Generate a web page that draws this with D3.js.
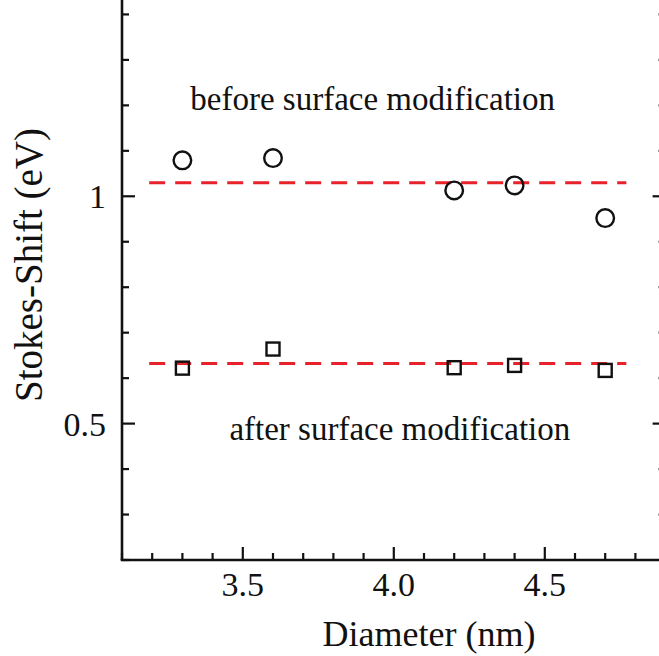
<!DOCTYPE html>
<html>
<head>
<meta charset="utf-8">
<script src="https://cdn.jsdelivr.net/npm/d3@7"></script>
<style>
  html, body { margin: 0; padding: 0; background: #fff; }
  svg { display: block; }
</style>
</head>
<body>
<div id="chart"></div>
<script>
// data
const diameters = [3.3, 3.6, 4.2, 4.4, 4.7];
const beforeShift = [1.079, 1.084, 1.013, 1.024, 0.952];
const afterShift = [0.622, 0.664, 0.623, 0.628, 0.617];
const beforeMean = 1.030;
const afterMean = 0.632;
const meanSpan = [3.19, 4.77];
const xMajor = [3.5, 4.0, 4.5];
const yMajor = [0.5, 1];

const width = 659, height = 656;
const font = "'Liberation Serif', 'Times New Roman', serif";

const svg = d3.select("#chart").append("svg")
    .attr("width", width)
    .attr("height", height);
svg.append("rect").attr("width", "100%").attr("height", "100%").style("fill", "#fff");

const x = d3.scaleLinear().domain([3.1, 4.9]).range([122, 665.6]);
const y = d3.scaleLinear().domain([0.2, 1.45]).range([560, -8.3]);

const xMinor = d3.range(31, 50).map(d => d / 10).filter(d => !xMajor.some(m => Math.abs(m - d) < 1e-9));
const yMinor = d3.range(2, 15).map(d => d / 10).filter(d => !yMajor.some(m => Math.abs(m - d) < 1e-9));

const axisColor = "#111";
const axisW = 2.6;

const axes = svg.append("g");

// frame lines
axes.append("line").attr("x1", x(3.1)).attr("x2", x(3.1)).attr("y1", y(0.2)).attr("y2", y(1.45));
axes.append("line").attr("x1", x(4.9)).attr("x2", x(4.9)).attr("y1", y(0.2)).attr("y2", y(1.45));
axes.append("line").attr("x1", x(3.1) - axisW / 2).attr("x2", x(4.9)).attr("y1", y(0.2)).attr("y2", y(0.2));
axes.selectAll("line").attr("stroke", axisColor).attr("stroke-width", axisW);

// ticks, all pointing inward
function tickLines(vals, len, side) {
    const g = svg.append("g").attr("stroke", axisColor).attr("stroke-width", 2.2);
    g.selectAll("line").data(vals).enter().append("line")
        .attr("x1", d => side === "bottom" ? x(d) : (side === "left" ? x(3.1) : x(4.9)))
        .attr("x2", d => side === "bottom" ? x(d) : (side === "left" ? x(3.1) + len : x(4.9) - len))
        .attr("y1", d => side === "bottom" ? y(0.2) : y(d))
        .attr("y2", d => side === "bottom" ? y(0.2) - len : y(d));
}
tickLines(xMajor, 13, "bottom");
tickLines(xMinor, 7, "bottom");
tickLines(yMajor, 13, "left");
tickLines(yMinor, 7, "left");
tickLines(yMajor, 13, "right");
tickLines(yMinor, 7, "right");

// tick labels
svg.append("g").selectAll("text").data(xMajor).enter().append("text")
    .attr("x", d => x(d))
    .attr("y", y(0.2) + 36)
    .attr("text-anchor", "middle")
    .style("font-family", font)
    .style("font-size", "34px")
    .attr("fill", "#111")
    .text(d3.format(".1f"));

svg.append("g").selectAll("text").data(yMajor).enter().append("text")
    .attr("x", x(3.1) - 16)
    .attr("y", d => y(d) + 12)
    .attr("text-anchor", "end")
    .style("font-family", font)
    .style("font-size", "34px")
    .attr("fill", "#111")
    .text(d => d3.format("")(d));

// axis titles
svg.append("text")
    .attr("x", 429)
    .attr("y", 646)
    .attr("text-anchor", "middle")
    .style("font-family", font)
    .style("font-size", "36px")
    .attr("fill", "#111")
    .text("Diameter (nm)");

svg.append("text")
    .attr("transform", "translate(42,265) rotate(-90)")
    .attr("text-anchor", "middle")
    .style("font-family", font)
    .style("font-size", "39px")
    .attr("fill", "#111")
    .text("Stokes-Shift (eV)");

// mean lines
svg.append("g").selectAll("line").data([beforeMean, afterMean]).enter().append("line")
    .attr("x1", x(meanSpan[0]))
    .attr("x2", x(meanSpan[1]))
    .attr("y1", d => y(d))
    .attr("y2", d => y(d))
    .attr("stroke", "#e8222b")
    .attr("stroke-width", 3)
    .attr("stroke-dasharray", "16,10");

// before: open circles
svg.append("g").selectAll("circle").data(diameters).enter().append("circle")
    .attr("cx", d => x(d))
    .attr("cy", (d, i) => y(beforeShift[i]))
    .attr("r", 8.8)
    .attr("fill", "none")
    .attr("stroke", "#111")
    .attr("stroke-width", 2.4);

// after: open squares
const sq = 13;
svg.append("g").selectAll("rect").data(diameters).enter().append("rect")
    .attr("x", d => x(d) - sq / 2)
    .attr("y", (d, i) => y(afterShift[i]) - sq / 2)
    .attr("width", sq)
    .attr("height", sq)
    .attr("fill", "none")
    .attr("stroke", "#111")
    .attr("stroke-width", 2.4);

// annotations
svg.append("text")
    .attr("x", x(3.93))
    .attr("y", y(1.19))
    .attr("text-anchor", "middle")
    .style("font-family", font)
    .style("font-size", "33px")
    .attr("fill", "#111")
    .text("before surface modification");

svg.append("text")
    .attr("x", x(4.02))
    .attr("y", y(0.465))
    .attr("text-anchor", "middle")
    .style("font-family", font)
    .style("font-size", "33px")
    .attr("fill", "#111")
    .text("after surface modification");
</script>
</body>
</html>
